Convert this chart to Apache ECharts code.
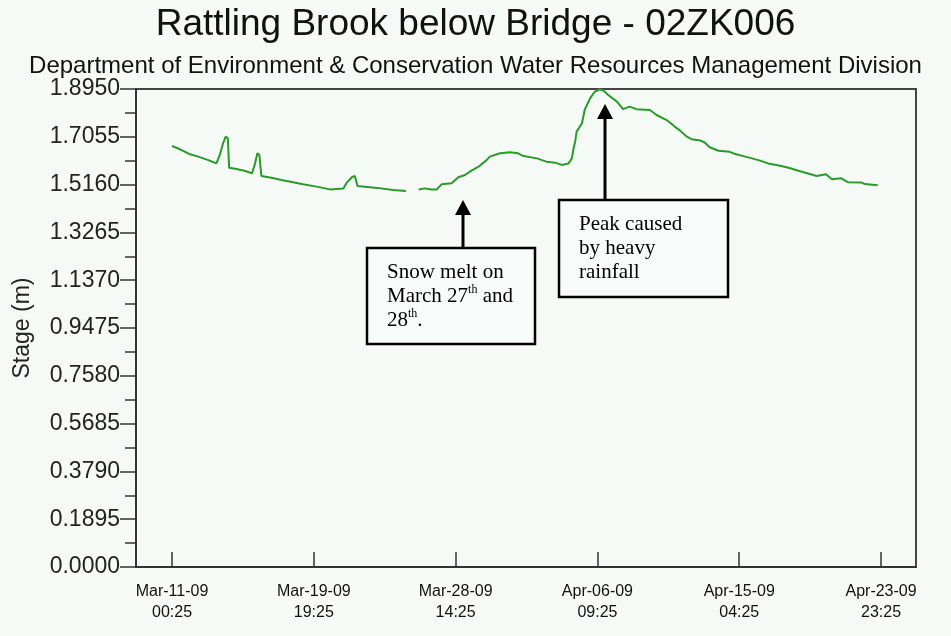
<!DOCTYPE html>
<html>
<head>
<meta charset="utf-8">
<script src="https://cdn.jsdelivr.net/npm/echarts@6/dist/echarts.min.js"></script>
<style>
html,body{margin:0;padding:0;background:#f5faf7;}
#chart{width:951px;height:636px;}
</style>
</head>
<body>
<div id="chart"></div>
<script>
// Hours elapsed since Mar-11-09 00:25
const hoursFromStart = [0, 12, 27, 39, 54, 66, 71, 76, 80, 83, 85, 96, 109, 119, 123, 127, 130, 133, 148, 163, 180, 195, 215, 235, 255, 260, 268, 272, 276, 305, 329, 348,
  357,
  367, 376, 386, 394, 401, 416, 426, 436, 443, 456, 468, 473, 488, 503, 515, 523, 543, 557, 570, 580, 590, 595, 597, 600, 602, 610, 614, 622, 629, 636, 642, 649, 662, 671, 681, 691, 711, 721, 736, 748, 756, 766, 773, 786, 793, 800, 813, 830, 838, 850, 863, 875, 887, 905, 920, 932, 949, 959, 973, 982, 996, 1006, 1026, 1031, 1050];
// Stage (m)
const stage = [1.669, 1.656, 1.636, 1.627, 1.613, 1.600, 1.633, 1.680, 1.706, 1.700, 1.583, 1.578, 1.570, 1.561, 1.594, 1.640, 1.633, 1.550, 1.543, 1.534, 1.525, 1.517, 1.508, 1.497, 1.501, 1.524, 1.546, 1.550, 1.510, 1.503, 1.495, 1.491,
  null,
  1.497, 1.501, 1.497, 1.497, 1.517, 1.521, 1.545, 1.554, 1.567, 1.587, 1.613, 1.627, 1.640, 1.644, 1.640, 1.629, 1.620, 1.607, 1.603, 1.594, 1.600, 1.620, 1.653, 1.689, 1.726, 1.759, 1.812, 1.858, 1.884, 1.894, 1.889, 1.871, 1.845, 1.815, 1.825, 1.815, 1.812, 1.792, 1.772, 1.746, 1.730, 1.706, 1.696, 1.691, 1.682, 1.664, 1.650, 1.646, 1.637, 1.629, 1.620, 1.611, 1.600, 1.591, 1.581, 1.571, 1.558, 1.550, 1.557, 1.537, 1.541, 1.525, 1.524, 1.518, 1.513];

const xTickHours = [0, 211, 422, 633, 844, 1055];
const xTickLabels = ['Mar-11-09\n00:25', 'Mar-19-09\n19:25', 'Mar-28-09\n14:25', 'Apr-06-09\n09:25', 'Apr-15-09\n04:25', 'Apr-23-09\n23:25'];
const yMax = 1.895;
const yStep = 0.1895;

const titleText = 'Rattling Brook below Bridge - 02ZK006';
const subtitleText = 'Department of Environment & Conservation Water Resources Management Division';

// Annotations: arrow tip anchored in data space (hours, stage)
const annotations = [
  { tip: [433, 1.455], boxDx: -96, boxDy: 48, w: 168, h: 96,
    text: '{t|Snow melt on}\n{t|March 27}{s|th}{t| and}\n{t|28}{s|th}{t|.}' },
  { tip: [644, 1.835], boxDx: -46, boxDy: 96, w: 169, h: 97,
    text: '{t|Peak caused}\n{t|by heavy}\n{t|rainfall}' }
];

const seriesData = hoursFromStart.map((h, i) => [h, stage[i]]);

const chart = echarts.init(document.getElementById('chart'), null, {renderer: 'canvas'});
const sans = 'Liberation Sans, Arial, sans-serif';
const option = {
  backgroundColor: '#f5faf7',
  animation: false,
  title: [
    { text: titleText, left: 'center', top: 1,
      textStyle: { fontFamily: sans, fontSize: 37, fontWeight: 'normal', color: '#111' } },
    { text: subtitleText, left: 'center', top: 49,
      textStyle: { fontFamily: sans, fontSize: 24, fontWeight: 'normal', color: '#111' } }
  ],
  grid: { left: 136, right: 35, top: 89, bottom: 69, show: true, borderColor: '#444', borderWidth: 2, backgroundColor: 'transparent' },
  xAxis: {
    type: 'value', min: -53.6, max: 1107,
    axisLine: { show: true, onZero: false, lineStyle: { color: '#333', width: 2 } },
    axisTick: { show: true, inside: true, length: 15, customValues: xTickHours, lineStyle: { color: '#333', width: 1.5 } },
    axisLabel: { customValues: xTickHours, margin: 14, color: '#111', fontFamily: sans, fontSize: 16, lineHeight: 21,
      formatter: v => { const i = xTickHours.indexOf(v); return i >= 0 ? xTickLabels[i] : ''; } },
    splitLine: { show: false }
  },
  yAxis: {
    type: 'value', min: 0, max: yMax, interval: yStep,
    name: 'Stage (m)', nameLocation: 'middle', nameRotate: 90, nameGap: 102,
    nameTextStyle: { fontFamily: sans, fontSize: 23, color: '#222' },
    axisLine: { show: true, onZero: false, lineStyle: { color: '#333', width: 2 } },
    axisTick: { show: true, inside: false, length: 16, lineStyle: { color: '#333', width: 1.5 } },
    minorTick: { show: true, splitNumber: 2, length: 11, lineStyle: { color: '#333', width: 1.5 } },
    axisLabel: { margin: 16, color: '#222', fontFamily: sans, fontSize: 23, formatter: v => v.toFixed(4) },
    splitLine: { show: false }
  },
  series: [{
    type: 'line', data: seriesData, showSymbol: false, connectNulls: false,
    lineStyle: { color: '#2a9a2a', width: 2 }
  }]
};
chart.setOption(option);

const graphics = [];
annotations.forEach(a => {
  const p = chart.convertToPixel({ gridIndex: 0 }, a.tip);
  const x = Math.round(p[0]), y = Math.round(p[1]);
  const bx = x + a.boxDx, by = y + a.boxDy;
  graphics.push({ type: 'line', shape: { x1: x, y1: y + 12, x2: x, y2: by }, style: { stroke: '#000', lineWidth: 3 }, z: 100 });
  graphics.push({ type: 'polygon', shape: { points: [[x, y], [x - 8, y + 15], [x + 8, y + 15]] }, style: { fill: '#000' }, z: 100 });
  graphics.push({ type: 'rect', shape: { x: bx, y: by, width: a.w, height: a.h }, style: { fill: '#f7fbf9', stroke: '#000', lineWidth: 2.5 }, z: 100 });
  graphics.push({ type: 'text', x: bx + 20, y: by + 12, z: 101,
    style: { text: a.text, rich: {
      t: { fontFamily: 'Liberation Serif, Times New Roman, serif', fontSize: 21, lineHeight: 24, fill: '#000' },
      s: { fontFamily: 'Liberation Serif, Times New Roman, serif', fontSize: 12, lineHeight: 24, fill: '#000', verticalAlign: 'top', padding: [0, 0, 10, 0] }
    } } });
});
chart.setOption({ graphic: graphics });
</script>
</body>
</html>
